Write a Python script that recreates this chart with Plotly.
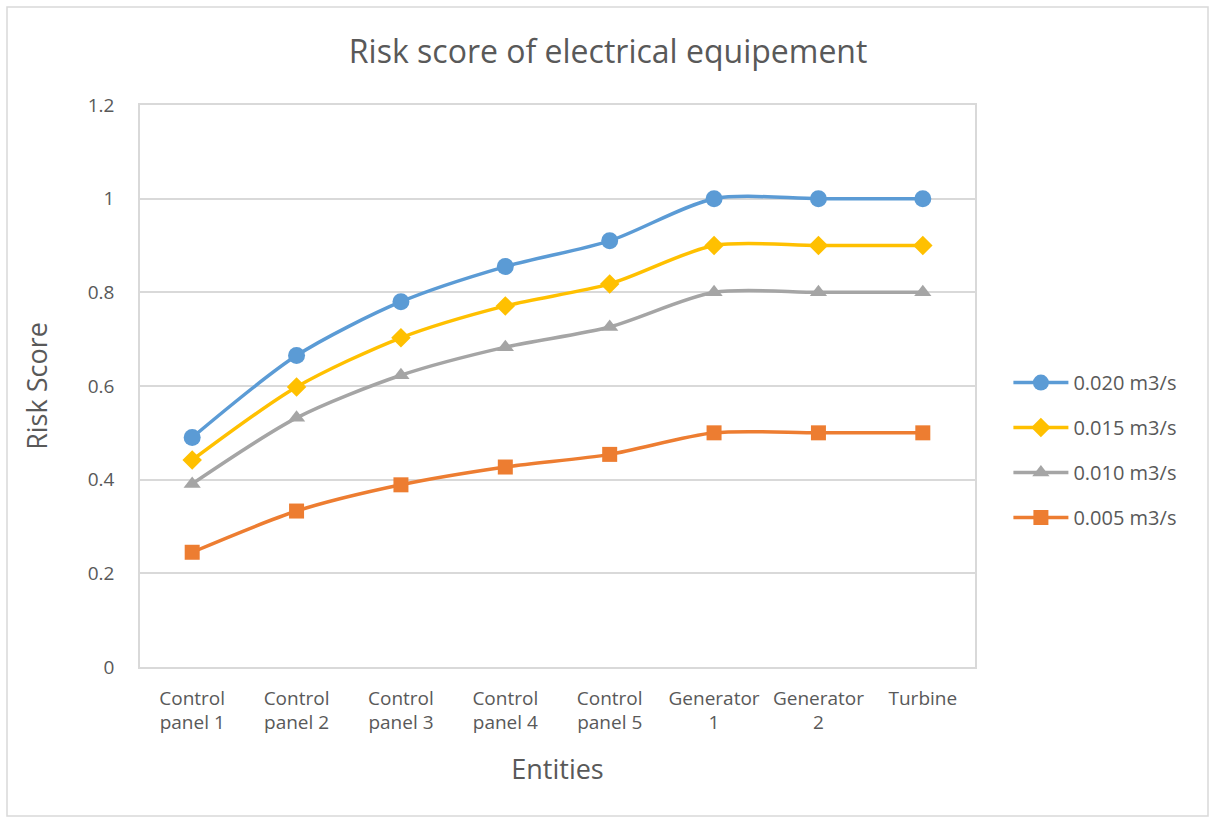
import plotly.graph_objects as go

entities = ["Control<br>panel 1", "Control<br>panel 2", "Control<br>panel 3", "Control<br>panel 4",
            "Control<br>panel 5", "Generator<br>1", "Generator<br>2", "Turbine"]

flow_020 = [0.49, 0.665, 0.78, 0.855, 0.91, 1.0, 1.0, 1.0]
flow_015 = [0.442, 0.598, 0.703, 0.771, 0.818, 0.9, 0.9, 0.9]
flow_010 = [0.391, 0.532, 0.623, 0.683, 0.726, 0.8, 0.8, 0.8]
flow_005 = [0.245, 0.333, 0.389, 0.427, 0.454, 0.5, 0.5, 0.5]

series = [
    ("0.020 m3/s", flow_020, "#5b9bd5", "circle", 17),
    ("0.015 m3/s", flow_015, "#ffc000", "diamond", 15),
    ("0.010 m3/s", flow_010, "#a5a5a5", "triangle-up", 15),
    ("0.005 m3/s", flow_005, "#ed7d31", "square", 15),
]

FONT = "Open Sans, Noto Sans, sans-serif"
TXT = "#595959"
GRID = "#d9d9d9"

fig = go.Figure()
for i, (name, vals, color, sym, size) in enumerate(series):
    fig.add_trace(go.Scatter(
        x=entities, y=vals, name=name, mode="lines+markers",
        legendgroup=f"g{i}",
        line=dict(color=color, width=3.5, shape="spline", smoothing=0.8),
        marker=dict(symbol=sym, size=size, color=color),
    ))

fig.update_layout(
    width=1209, height=817,
    paper_bgcolor="white", plot_bgcolor="white",
    margin=dict(l=140, r=234, t=105, b=150),
    title=dict(text="Risk score of electrical equipement", x=0.503, xref="container",
               y=0.937, yanchor="middle",
               font=dict(family=FONT, size=32, color=TXT)),
    font=dict(family=FONT, color=TXT),
    legend=dict(x=1.04, xanchor="left", y=0.386, yanchor="middle",
                font=dict(family=FONT, size=20, color=TXT),
                tracegroupgap=16, itemwidth=55),
    xaxis=dict(type="category", range=[-0.5, 7.5],
               showline=True, linecolor=GRID, linewidth=1.5, mirror=True,
               showgrid=False, ticks="", ticklabelstandoff=13,
               tickfont=dict(family=FONT, size=19, color=TXT),
               title=dict(text="Entities", font=dict(family=FONT, size=27, color=TXT),
                          standoff=26)),
    yaxis=dict(range=[0, 1.2], dtick=0.2, tick0=0,
               showline=True, linecolor=GRID, linewidth=1.5, mirror=True,
               showgrid=True, gridcolor=GRID, gridwidth=1.5, zeroline=False,
               ticks="", ticklabelstandoff=20,
               tickfont=dict(family=FONT, size=19, color=TXT),
               title=dict(text="Risk Score", font=dict(family=FONT, size=27, color=TXT),
                          standoff=32)),
    shapes=[dict(type="rect", xref="paper", yref="paper",
                 x0=-133 / 835, x1=(1208 - 140) / 835,
                 y0=-(816 - 667) / 562, y1=(667 - 7) / 562,
                 line=dict(color=GRID, width=1.5), fillcolor="rgba(0,0,0,0)", layer="below")],
)

fig.write_html("out.html")
